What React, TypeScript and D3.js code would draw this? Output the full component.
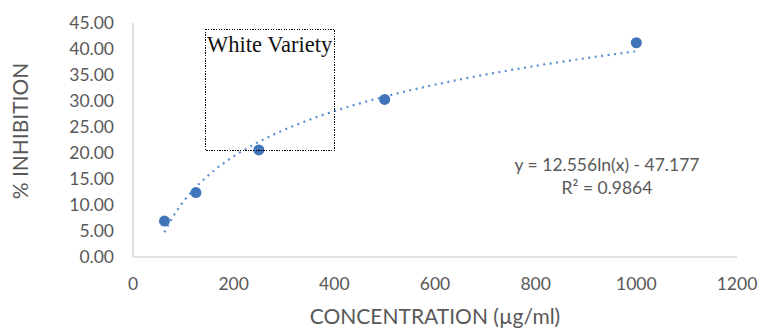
import { useEffect, useRef } from 'react';
import * as d3 from 'd3';

const concentrations = [62.5, 125, 250, 500, 1000];
const inhibition = [6.9, 12.4, 20.6, 30.3, 41.2];
const yTicks = [0, 5, 10, 15, 20, 25, 30, 35, 40, 45];
const xTicks = [0, 200, 400, 600, 800, 1000, 1200];
// logarithmic trendline as printed on the chart
const trendSlope = 12.556;
const trendIntercept = -47.177;
const equationLines = ['y = 12.556ln(x) - 47.177', 'R² = 0.9864'];

export default function App() {
  const svgRef = useRef<SVGSVGElement>(null);
  const width = 762;
  const height = 328;

  useEffect(() => {
    const svg = d3.select(svgRef.current);
    svg.selectAll('*').remove();

    const left = 133, right = 737, top = 23, bottom = 257;
    const x = d3.scaleLinear().domain([0, 1200]).range([left, right]);
    const y = d3.scaleLinear().domain([0, 45]).range([bottom, top]);
    const font = 'Lato, "Open Sans", sans-serif';
    const grey = '#595959';

    // axes lines
    svg.append('line')
      .attr('x1', left).attr('x2', left)
      .attr('y1', top).attr('y2', bottom)
      .attr('stroke', '#d9d9d9').attr('stroke-width', 1.5);
    svg.append('line')
      .attr('x1', left).attr('x2', right)
      .attr('y1', bottom).attr('y2', bottom)
      .attr('stroke', '#d9d9d9').attr('stroke-width', 1.5);

    // y tick labels
    svg.append('g')
      .selectAll('text')
      .data(yTicks)
      .join('text')
      .attr('x', 114)
      .attr('y', d => y(d))
      .attr('dy', '0.35em')
      .attr('text-anchor', 'end')
      .attr('font-family', font)
      .attr('font-size', 17.5)
      .attr('fill', grey)
      .text(d => d.toFixed(2));

    // x tick labels
    svg.append('g')
      .selectAll('text')
      .data(xTicks)
      .join('text')
      .attr('x', d => x(d))
      .attr('y', 284)
      .attr('dy', '0.35em')
      .attr('text-anchor', 'middle')
      .attr('font-family', font)
      .attr('font-size', 17.5)
      .attr('fill', grey)
      .text(d => String(d));

    // axis titles
    svg.append('text')
      .attr('x', 435)
      .attr('y', 317)
      .attr('dy', '0.35em')
      .attr('text-anchor', 'middle')
      .attr('font-family', font)
      .attr('font-size', 21)
      .attr('fill', grey)
      .text('CONCENTRATION (µg/ml)');
    svg.append('text')
      .attr('transform', 'translate(21,131) rotate(-90)')
      .attr('dy', '0.35em')
      .attr('text-anchor', 'middle')
      .attr('font-family', font)
      .attr('font-size', 21)
      .attr('fill', grey)
      .text('% INHIBITION');

    // trendline
    const trendXs = d3.range(concentrations[0], concentrations[concentrations.length - 1] + 1, 5);
    const line = d3.line<number>()
      .x(d => x(d))
      .y(d => y(trendSlope * Math.log(d) + trendIntercept));
    svg.append('path')
      .datum(trendXs)
      .attr('fill', 'none')
      .attr('stroke', '#5b8fd4')
      .attr('stroke-width', 2.2)
      .attr('stroke-dasharray', '2,4.5')
      .attr('d', line);

    // markers
    svg.append('g')
      .selectAll('circle')
      .data(concentrations)
      .join('circle')
      .attr('cx', d => x(d))
      .attr('cy', (d, i) => y(inhibition[i]))
      .attr('r', 5.5)
      .attr('fill', '#4274b9');

    // text box
    svg.append('rect')
      .attr('x', 205.5).attr('y', 29.5)
      .attr('width', 129).attr('height', 121)
      .attr('fill', 'none')
      .attr('stroke', '#000')
      .attr('stroke-width', 1.3)
      .attr('stroke-dasharray', '1.3,1.3')
      .attr('shape-rendering', 'crispEdges');
    svg.append('text')
      .attr('x', 207)
      .attr('y', 52)
      .attr('font-family', '"Liberation Serif", "Times New Roman", serif')
      .attr('font-size', 22.5)
      .attr('fill', '#111')
      .text('White Variety');

    // equation
    svg.append('g')
      .selectAll('text')
      .data(equationLines)
      .join('text')
      .attr('x', 607)
      .attr('y', (d, i) => 165 + i * 23)
      .attr('dy', '0.35em')
      .attr('text-anchor', 'middle')
      .attr('font-family', font)
      .attr('font-size', 17.5)
      .attr('fill', grey)
      .text(d => d);
  }, []);

  return (
    <svg ref={svgRef} width={width} height={height} style={{ position: 'absolute', left: 0, top: 0 }} />
  );
}
